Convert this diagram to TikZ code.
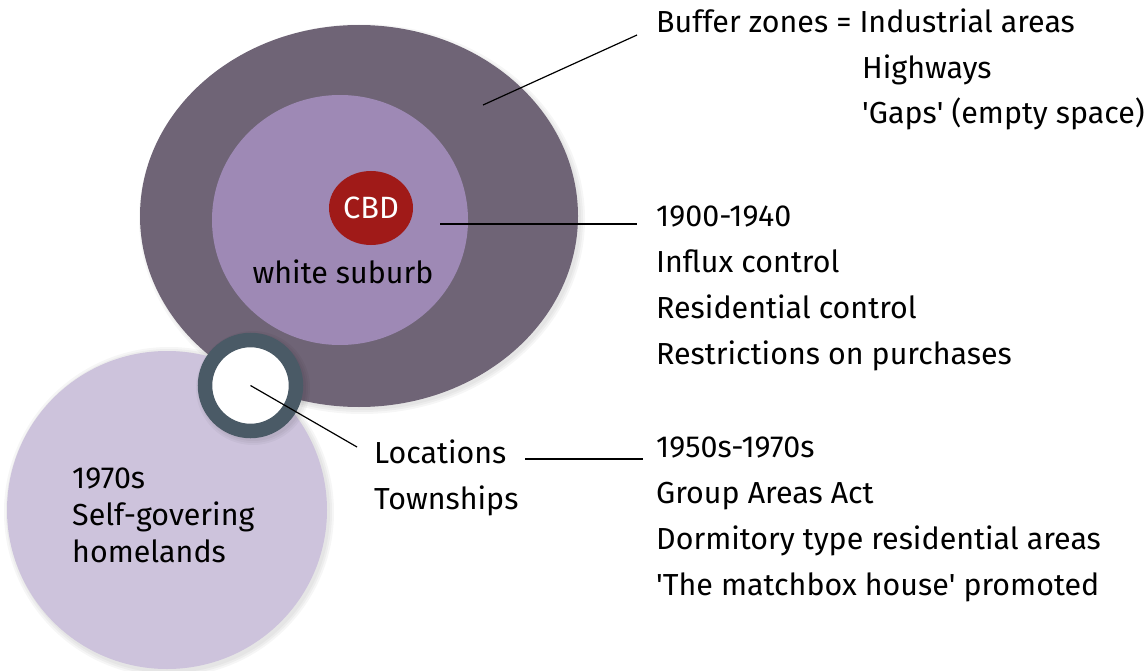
\documentclass[tikz,border=0pt]{standalone}
\usepackage{fontspec}
\setmainfont{Fira Sans}
\newfontfamily\plainq{Fira Sans}
\usetikzlibrary{shapes.geometric}
\definecolor{outerC}{HTML}{6F6476}
\definecolor{innerC}{HTML}{9E89B5}
\definecolor{cbdC}{HTML}{A01A18}
\definecolor{ringC}{HTML}{4A5A66}
\definecolor{homeC}{HTML}{CDC3DC}
\newcommand{\sq}{{\plainq '}}
\tikzset{
  txt/.style={anchor=base west, inner sep=0pt, font=\fontsize{30.4}{36}\selectfont},
  zone/.style={ellipse, inner sep=0pt, draw=none},
  lead/.style={draw=black, line width=1.2pt},
  shade/.style={fill=black, opacity=0.035}
}
\begin{document}
\begin{tikzpicture}[x=1pt,y=-1pt]
\useasboundingbox (0,0) rectangle (1145,671);
% shadows
\foreach \d in {0,2,4}{
  \fill[shade] (169,512) circle [radius={161+\d}];
  \fill[shade] (362,219) ellipse [x radius={219+\d}, y radius={191+\d}];
}
% shapes
\node[zone, fill=homeC, minimum width=320, minimum height=318] (home) at (167,510) {};
\node[zone, fill=outerC, minimum width=438, minimum height=382] (outer) at (359,216) {};
\node[zone, fill=innerC, minimum width=256, minimum height=250] (inner) at (340,220) {};
\node[zone, fill=cbdC, minimum width=84, minimum height=74, text=white, font=\fontsize{30.8}{36}\selectfont] (cbd) at (371,208) {CBD};
\foreach \d in {0,2,4}{\fill[shade] (253,388) circle [radius={53+\d}];}
\node[circle, inner sep=0pt, fill=white, draw=ringC, line width=14.5pt, minimum size=91] (loc) at (250.5,385.5) {};
% texts
\node[txt] (t1) at (656,33) {Buffer zones = Industrial areas};
\node[txt] (t2) at (862,79) {Highways};
\node[txt] (t3) at (862,124) {\sq Gaps\sq{} (empty space)};
\node[txt] (a1) at (656,226) {1900-1940};
\node[txt] (a2) at (656,272) {Influx control};
\node[txt] (a3) at (656,318) {Residential control};
\node[txt] (a4) at (656,364) {Restrictions on purchases};
\node[txt] (b1) at (656,457) {1950s-1970s};
\node[txt] (b2) at (656,503) {Group Areas Act};
\node[txt] (b3) at (656,549) {Dormitory type residential areas};
\node[txt] (b4) at (656,595) {\sq The matchbox house\sq{} promoted};
\node[txt] (l1) at (374,463) {Locations};
\node[txt] (l2) at (374,509) {Townships};
\node[txt] (h1) at (72,488) {1970s};
\node[txt] (h2) at (72,525) {Self-govering};
\node[txt] (h3) at (72,562) {homelands};
\node[txt, anchor=base] (ws) at (343,283) {white suburb};
% leader coordinates
\coordinate (bz) at (483,105);
\coordinate (bzEnd) at (637,35);
\coordinate (ws1) at (440,224);
\coordinate (ws2) at (637,224);
\coordinate (locEnd) at (357,447);
\coordinate (lt1) at (525,459);
\coordinate (lt2) at (643,459);
\draw[lead] (bz) -- (bzEnd);
\draw[lead] (ws1) -- (ws2);
\draw[lead] (loc.center) -- (locEnd);
\draw[lead] (lt1) -- (lt2);
\end{tikzpicture}
\end{document}
